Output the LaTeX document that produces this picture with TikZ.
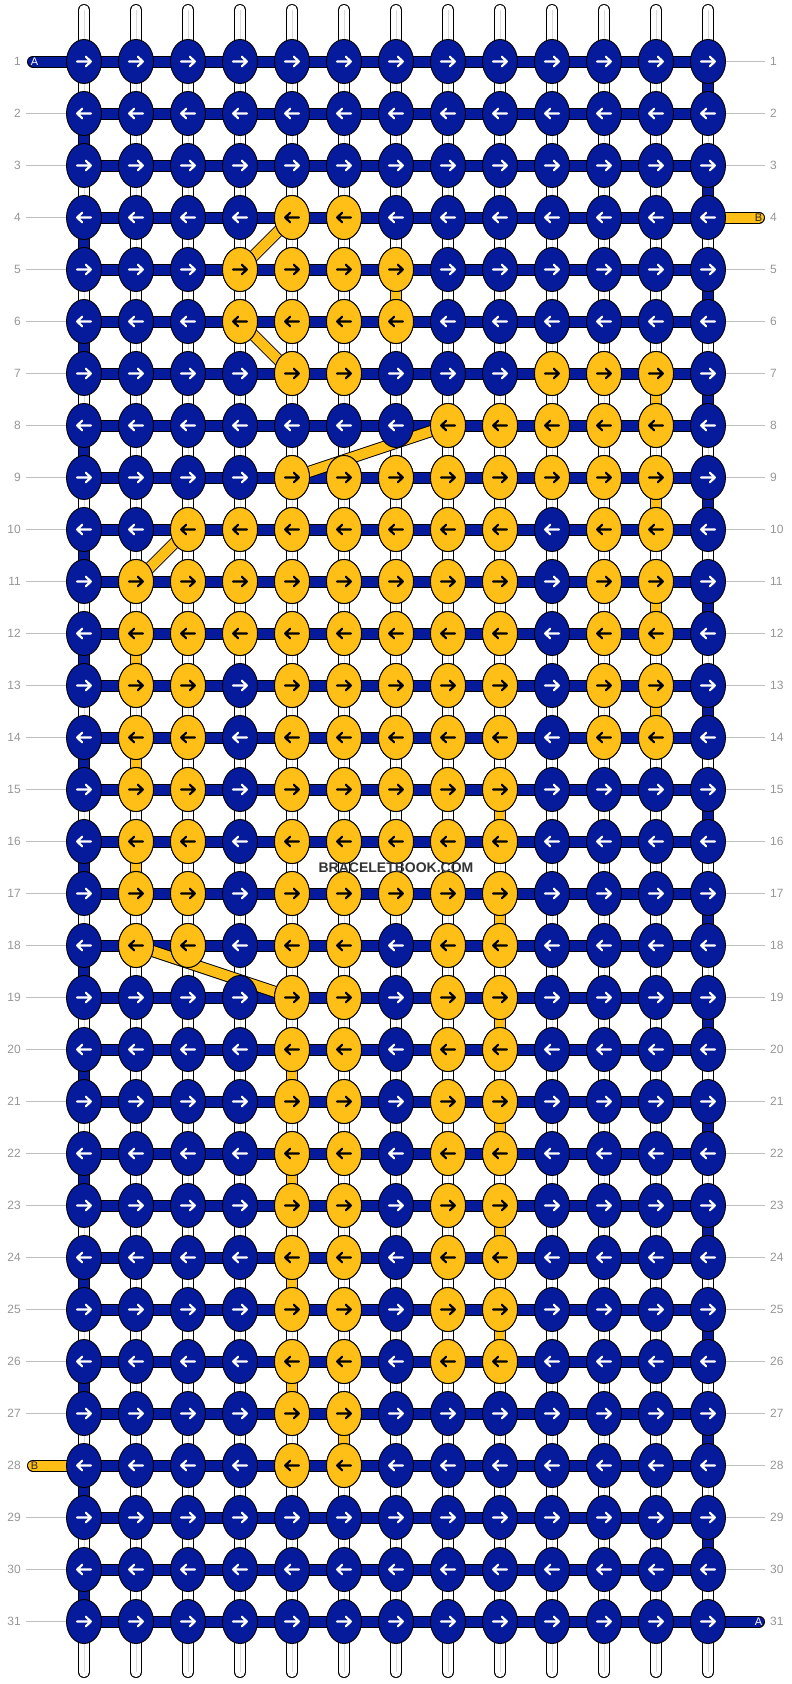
\documentclass[tikz,border=0pt]{standalone}
\usepackage{fontspec}
\setmainfont{Liberation Sans}
\usetikzlibrary{shapes.geometric,calc}

\definecolor{threadblue}{HTML}{061A9C}
\definecolor{threadyellow}{HTML}{FFBF17}
\definecolor{rowgray}{HTML}{969696}

\pgfdeclarelayer{back}
\pgfdeclarelayer{mid}
\pgfsetlayers{back,mid,main}

\tikzset{
  knot/.style={ellipse, draw=black, line width=0.9pt, minimum width=35pt, minimum height=44pt, inner sep=0pt},
  bluethread/.style={draw=threadblue, line width=10pt, preaction={draw=black, line width=12pt}},
  yellowthread/.style={draw=threadyellow, line width=10pt, preaction={draw=black, line width=12pt}},
  bluepill/.style={draw=threadblue, line width=10pt, line cap=round,
    preaction={draw=black, line width=12pt, line cap=round}},
  yellowpill/.style={draw=threadyellow, line width=10pt, line cap=round,
    preaction={draw=black, line width=12pt, line cap=round}},
  basethread/.style={draw=white, line width=10.2pt, line cap=round,
    preaction={draw=black, line width=12pt, line cap=round},
    postaction={draw=black!15, line width=0.7pt, line cap=butt}},
  rowline/.style={draw=black!25, line width=0.8pt},
  rownum/.style={text=rowgray, font=\fontsize{12}{12}\selectfont, inner sep=0pt},
  endletter/.style={font=\fontsize{11}{11}\selectfont, inner sep=0pt},
  pics/rarrow/.style={code={
    \draw[line width=2.2pt, line cap=round, line join=round] (-7,0) -- (6.8,0) (1.8,-4.8) -- (6.8,0) -- (1.8,4.8);
  }},
}

\begin{document}
\begin{tikzpicture}[x=1pt, y=-1pt]
  \useasboundingbox (0,0) rectangle (792,1684);

  % Draw the knots
  \foreach \r [evaluate=\r as \dir using {1-2*mod(\r+1,2)}] in {1,...,31}
    \foreach \c in {1,...,13} {
      \node[knot, fill=threadblue] (k-\r-\c) at ({84+52*(\c-1)}, {61.5+52*(\r-1)}) {};
      \pic[white, xscale=\dir] at (k-\r-\c.center) {rarrow};
    }

  % Draw the yellow knots on top
  \foreach \r/\cols [evaluate=\r as \dir using {1-2*mod(\r+1,2)}] in {
      4/{5,6}, 5/{4,5,6,7}, 6/{4,5,6,7}, 7/{5,6,10,11,12}, 8/{8,9,10,11,12},
      9/{5,6,7,8,9,10,11,12}, 10/{3,4,5,6,7,8,9,11,12}, 11/{2,3,4,5,6,7,8,9,11,12},
      12/{2,3,4,5,6,7,8,9,11,12}, 13/{2,3,5,6,7,8,9,11,12}, 14/{2,3,5,6,7,8,9,11,12},
      15/{2,3,5,6,7,8,9}, 16/{2,3,5,6,7,8,9}, 17/{2,3,5,6,7,8,9}, 18/{2,3,5,6,8,9},
      19/{5,6,8,9}, 20/{5,6,8,9}, 21/{5,6,8,9}, 22/{5,6,8,9}, 23/{5,6,8,9},
      24/{5,6,8,9}, 25/{5,6,8,9}, 26/{5,6,8,9}, 27/{5,6}, 28/{5,6}}
    \foreach \c in \cols {
      \node[knot, fill=threadyellow] (y-\r-\c) at (k-\r-\c.center) {};
      \pic[black, xscale=\dir] at (y-\r-\c.center) {rarrow};
    }

  % Draw the white base threads
  \begin{pgfonlayer}{back}
    \foreach \c in {1,...,13} {
      \coordinate (top-\c) at ([yshift=51.5pt]k-1-\c.center);
      \coordinate (end-\c) at ([yshift=-50.5pt]k-31-\c.center);
      \draw[basethread] (top-\c) -- (end-\c);
    }
  \end{pgfonlayer}

  \begin{pgfonlayer}{mid}
    % Draw the rows of the blue thread
    \foreach \r in {1,...,31}
      \draw[bluethread] (k-\r-1.center) -- (k-\r-13.center);

    % Draw the turns at the edges
    \foreach \r [evaluate=\r as \e using {int(13-12*mod(\r+1,2))},
                 evaluate=\r as \n using {int(\r+1)}] in {1,...,30}
      \draw[bluethread] (k-\r-\e.center) -- (k-\n-\e.center);

    % Draw the yellow thread going down
    \foreach \r/\c [evaluate=\r as \n using {int(\r+1)}] in {5/7, 7/12, 9/12, 11/12, 12/2, 13/12,
        14/2, 15/9, 16/2, 17/9, 19/9, 20/5, 21/9, 22/5, 23/9, 24/5, 25/9, 26/5, 27/6}
      \draw[yellowthread] (k-\r-\c.center) -- (k-\n-\c.center);

    % Draw the yellow thread crossing over
    \foreach \ra/\ca/\rb/\cb in {4/5/5/4, 6/4/7/5, 8/8/9/5, 10/3/11/2, 18/2/19/5}
      \draw[yellowthread] (k-\ra-\ca.center) -- (k-\rb-\cb.center);

    % Draw the loose ends
    \coordinate (a-in) at ([xshift=-51pt]k-1-1.center);
    \coordinate (a-out) at ([xshift=51pt]k-31-13.center);
    \coordinate (b-in) at ([xshift=51pt]k-4-13.center);
    \coordinate (b-out) at ([xshift=-51pt]k-28-1.center);
    \draw[bluepill] (a-in) -- (k-1-1.center);
    \draw[bluepill] (k-31-13.center) -- (a-out);
    \draw[yellowpill] (k-4-13.center) -- (b-in);
    \draw[yellowpill] (b-out) -- (k-28-1.center);
  \end{pgfonlayer}

  % Add labels
  \node[endletter, text=white] (a-start) at ([xshift=-49.5pt]k-1-1.center) {A};
  \node[endletter, text=white] (a-end) at ([xshift=50.5pt]k-31-13.center) {A};
  \node[endletter, text=black!85] (b-start) at ([xshift=50.5pt]k-4-13.center) {B};
  \node[endletter, text=black!85] (b-end) at ([xshift=-49.5pt]k-28-1.center) {B};

  % Add row numbers
  \foreach \r in {1,...,31} {
    \node[rownum, anchor=east] (l-\r) at ([xshift=-63pt]k-\r-1.center) {\r};
    \node[rownum, anchor=west] (r-\r) at ([xshift=62pt]k-\r-13.center) {\r};
  }
  \foreach \r in {2,...,27,29,30,31}
    \draw[rowline] ([xshift=5pt]l-\r.east) -- (k-\r-1.west);
  \foreach \r in {1,2,3,5,6,...,30}
    \draw[rowline] (k-\r-13.east) -- ([xshift=-5pt]r-\r.west);

  \node[font=\bfseries\fontsize{14}{14}\selectfont, text=black!80] (brand)
    at ($(k-16-7.center)!0.5!(k-17-7.center)$) {BRACELETBOOK.COM};
\end{tikzpicture}
\end{document}
